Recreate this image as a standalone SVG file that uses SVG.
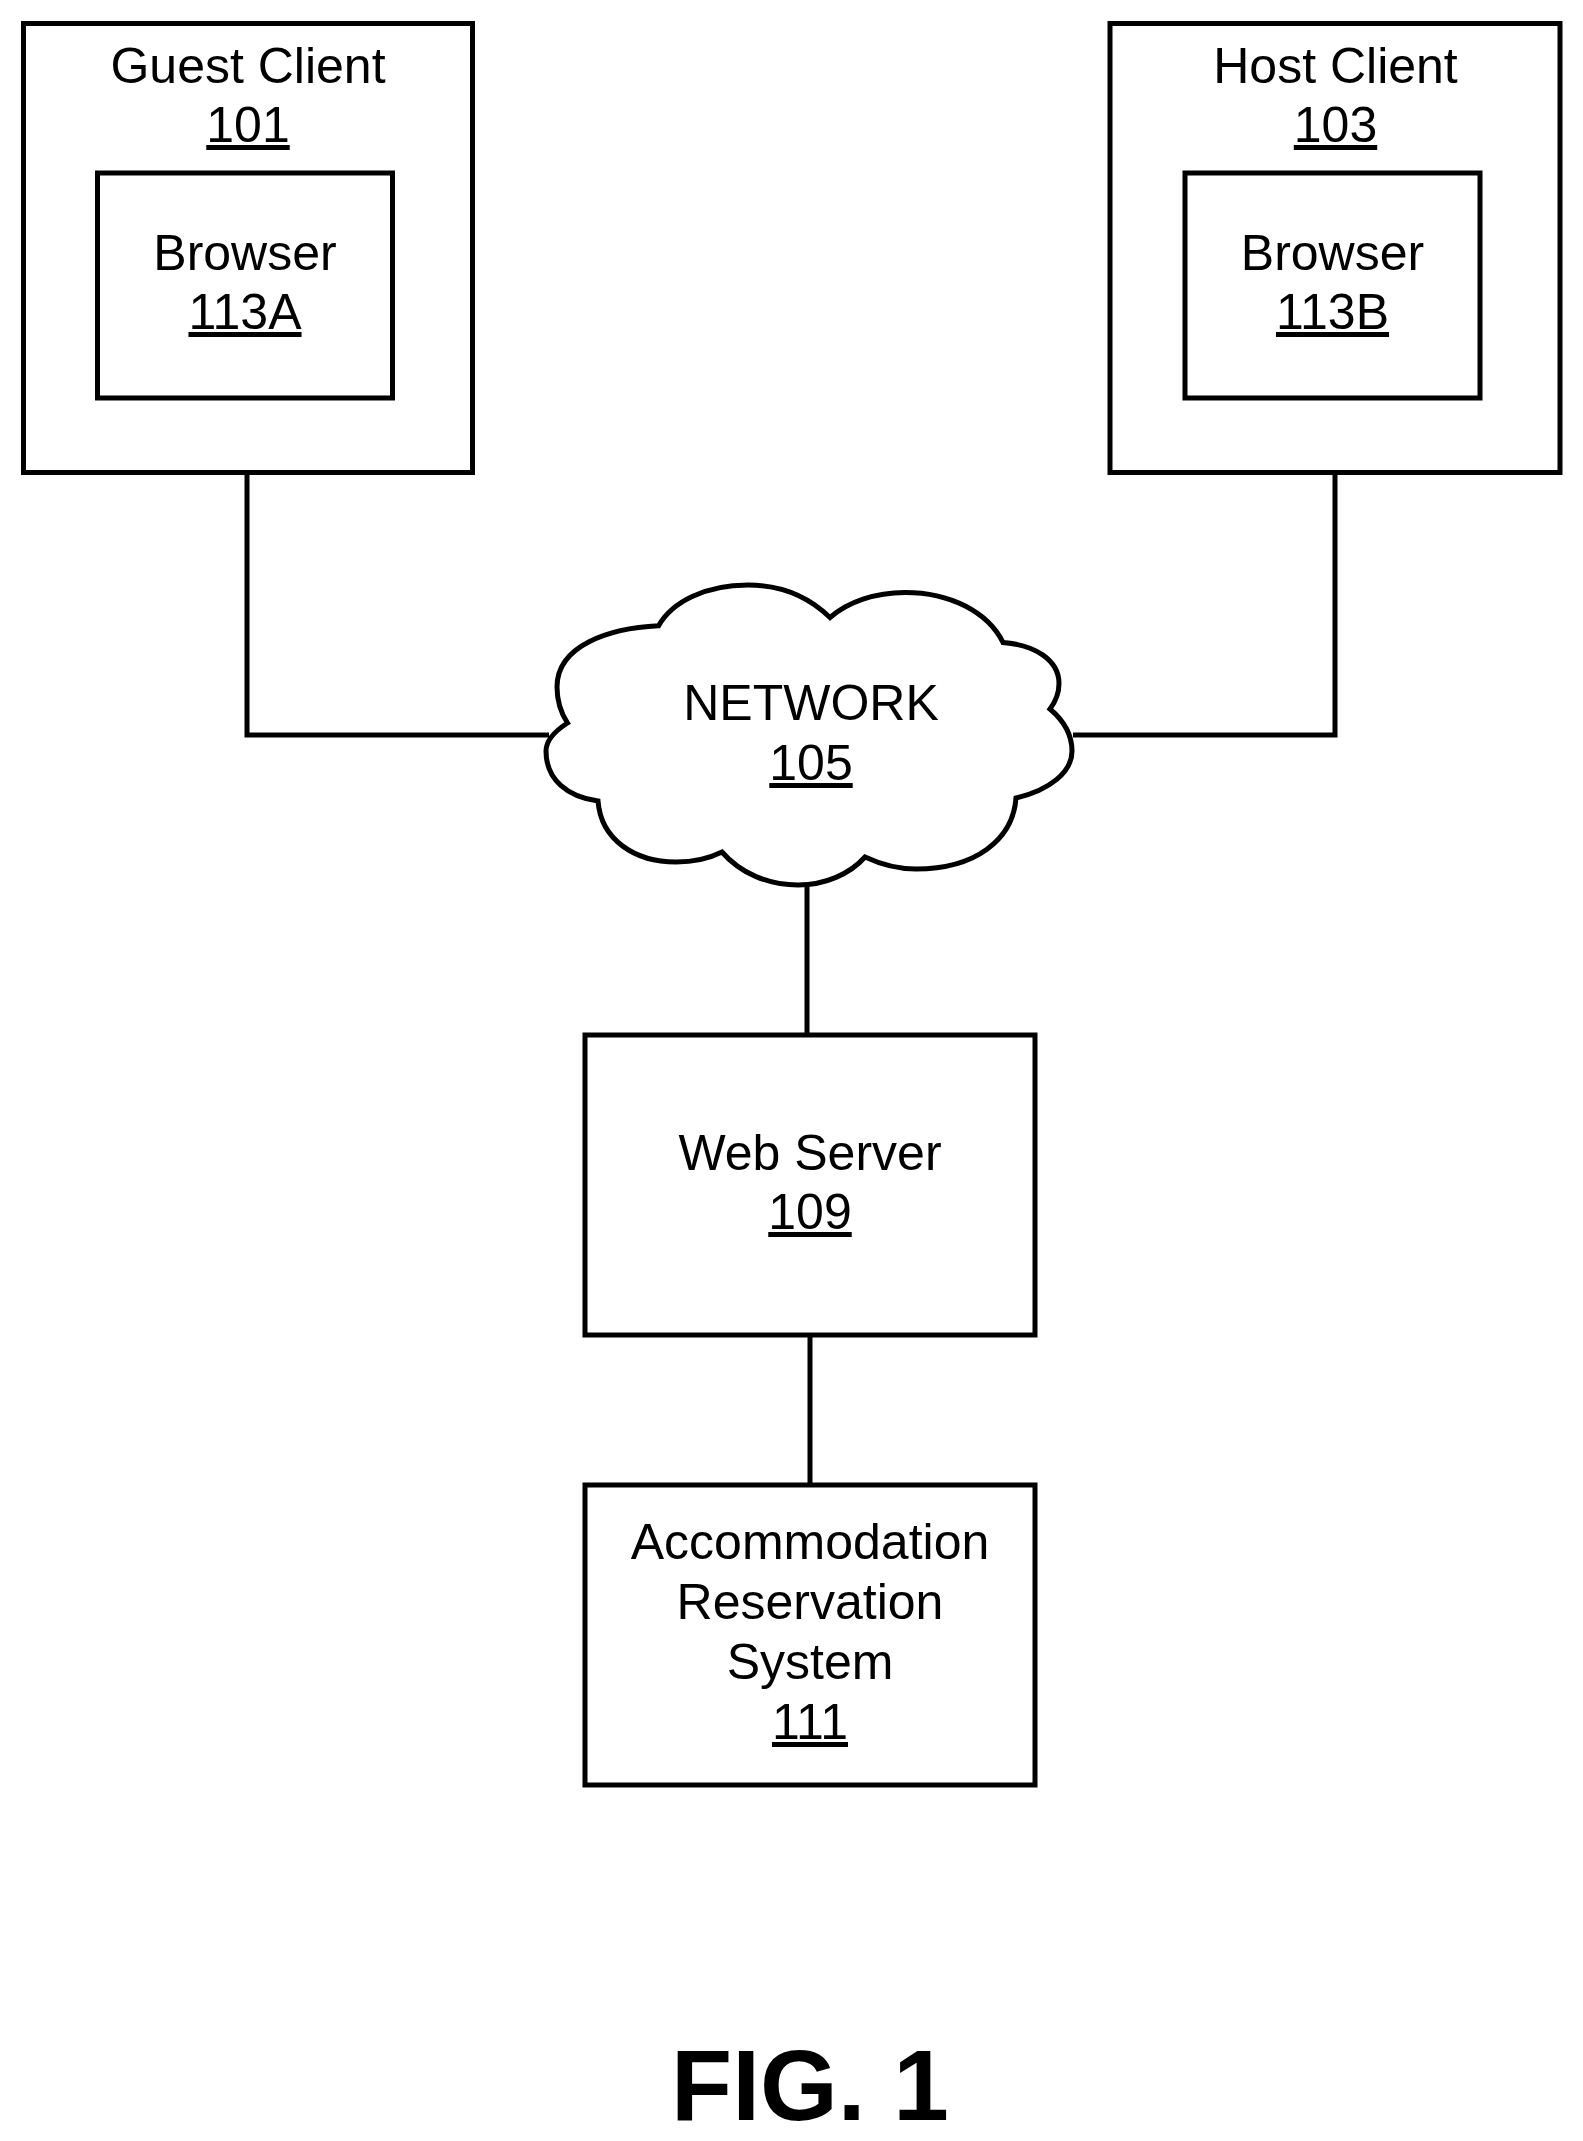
<svg xmlns="http://www.w3.org/2000/svg" width="1583" height="2141" viewBox="0 0 1583 2141">
<style>
.box{fill:none;stroke:#000;stroke-width:5}
.conn{fill:none;stroke:#000;stroke-width:5}
.t{font-family:"Liberation Sans",Arial,sans-serif;font-size:50px;fill:#000;text-anchor:middle}
.u{text-decoration:underline}
.fig{font-family:"Liberation Sans",Arial,sans-serif;font-size:100px;font-weight:bold;fill:#000;text-anchor:middle}
</style>
<rect width="1583" height="2141" fill="#fff"/>
<g id="connectors">
<path class="conn" d="M247,472 V735 H549"/>
<path class="conn" d="M1335,472 V735 H1073"/>
<path class="conn" d="M807,884 V1035"/>
<path class="conn" d="M810,1335 V1485"/>
</g>
<g id="guest-client">
<rect class="box" x="23.5" y="23.5" width="449" height="449"/>
<text class="t" x="248" y="83">Guest Client</text>
<text class="t u" x="248" y="142">101</text>
</g>
<g id="browser-113a">
<rect class="box" x="97.5" y="173" width="295" height="225"/>
<text class="t" x="245" y="270">Browser</text>
<text class="t u" x="245" y="329">113A</text>
</g>
<g id="host-client">
<rect class="box" x="1110" y="23.5" width="450" height="449"/>
<text class="t" x="1335.5" y="83">Host Client</text>
<text class="t u" x="1335.5" y="142">103</text>
</g>
<g id="browser-113b">
<rect class="box" x="1185" y="173" width="295" height="225"/>
<text class="t" x="1332.5" y="270">Browser</text>
<text class="t u" x="1332.5" y="329">113B</text>
</g>
<g id="network">
<path fill="#fff" stroke="#000" stroke-width="5" stroke-linejoin="miter" d="M567.5,723 C555,731 546,740 546,751 C546,780 568,797 598,801 C601,840 635,862 676,862 C694,862 710,858 722,852 C740,873 768,885 798,885 C825,885 850,874 865,857 C880,864 898,869 916,869 C975,869 1013,840 1016,798 C1050,790 1072,772 1072,751 C1072,735 1063,720 1050,709 C1056,701 1059,692 1059,683.6 C1059,660 1035,645 1003,642.5 C988,612 950,592.5 905,592.5 C875,592.5 848,602 830,617.5 C810,598 785,585 748,585 C705,585 672,602 658.6,625.7 C610,628 557,645 557,687 C557,700 561,713 567.5,723 Z"/>
<text class="t" x="811" y="720">NETWORK</text>
<text class="t u" x="811" y="780">105</text>
</g>
<g id="web-server">
<rect class="box" x="585" y="1035" width="450" height="300"/>
<text class="t" x="810" y="1170">Web Server</text>
<text class="t u" x="810" y="1229">109</text>
</g>
<g id="accommodation-reservation-system">
<rect class="box" x="585" y="1485" width="450" height="300"/>
<text class="t" x="810" y="1559">Accommodation</text>
<text class="t" x="810" y="1619">Reservation</text>
<text class="t" x="810" y="1679">System</text>
<text class="t u" x="810" y="1739">111</text>
</g>
<text class="fig" x="810" y="2120">FIG. 1</text>
</svg>
